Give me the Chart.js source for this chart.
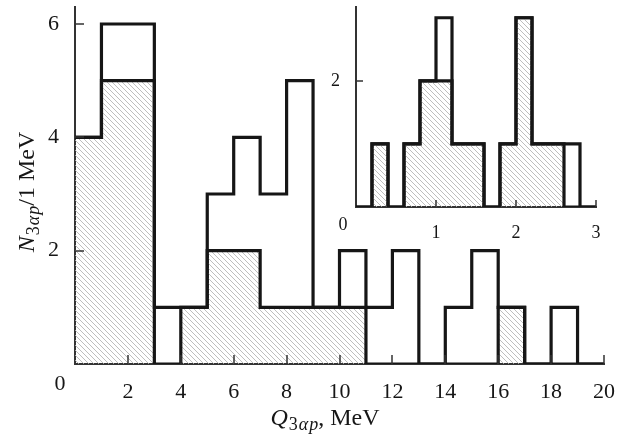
<!DOCTYPE html>
<html>
<head>
<meta charset="utf-8">
<script src="https://cdn.jsdelivr.net/npm/chart.js@4.4.1/dist/chart.umd.min.js"></script>
<style>
  html, body { margin: 0; padding: 0; background: #fff; }
  #wrap { position: relative; width: 627px; height: 438px; }
  #main { position: absolute; left: 0; top: 0; }
  #inset { position: absolute; left: 320px; top: 0; }
</style>
</head>
<body>
<div id="wrap">
  <canvas id="main" width="627" height="438"></canvas>
  <canvas id="inset" width="307" height="240"></canvas>
</div>
<script>
// main histogram: 1 MeV bins, 0..20 MeV
const mainEdges = [0, 1, 2, 3, 4, 5, 6, 7, 8, 9, 10, 11, 12, 13, 14, 15, 16, 17, 18, 19, 20];
const mainTotal = [4, 6, 6, 1, 1, 3, 4, 3, 5, 1, 2, 1, 2, 0, 1, 2, 1, 0, 1, 0];
const mainHatched = [4, 5, 5, 0, 1, 2, 2, 1, 1, 1, 1, 0, 0, 0, 0, 0, 1, 0, 0, 0];
const mainXTicks = [0, 2, 4, 6, 8, 10, 12, 14, 16, 18, 20];
const mainYTicks = [2, 4, 6];

// inset: 0.2 MeV bins, 0..3 MeV
const insetEdges = [0, 0.2, 0.4, 0.6, 0.8, 1.0, 1.2, 1.4, 1.6, 1.8, 2.0, 2.2, 2.4, 2.6, 2.8, 3.0];
const insetTotal = [0, 1, 0, 1, 2, 3, 1, 1, 0, 1, 3, 1, 1, 1, 0];
const insetHatched = [0, 1, 0, 1, 2, 2, 1, 1, 0, 1, 3, 1, 1, 0, 0];
const insetXTicks = [0, 1, 2, 3];
const insetYTicks = [2];

const SERIF = '"Liberation Serif", serif';
const INK = '#161616';
const AXIS = '#333';

function steps(edges, counts) {
    const pts = counts.map((c, i) => ({ x: edges[i], y: c }));
    pts.push({ x: edges[edges.length - 1], y: 0 });
    return pts;
}

function hatch() {
    const s = 5;
    const c = document.createElement('canvas');
    c.width = s; c.height = s;
    const g = c.getContext('2d');
    g.strokeStyle = '#b2b2b2';
    g.lineWidth = 0.85;
    g.beginPath();
    g.moveTo(-1, -1); g.lineTo(s + 1, s + 1);
    g.moveTo(-1, s - 1); g.lineTo(1, s + 1);
    g.moveTo(s - 1, -1); g.lineTo(s + 1, 1);
    g.stroke();
    return g.createPattern(c, 'repeat');
}

function richText(ctx, parts, x, y) {
    let w = 0;
    parts.forEach(p => { ctx.font = p.font; w += ctx.measureText(p.text).width + (p.gap || 0); });
    let cx = x - w / 2;
    parts.forEach(p => {
        ctx.font = p.font;
        ctx.fillText(p.text, cx, y + (p.dy || 0));
        cx += ctx.measureText(p.text).width + (p.gap || 0);
    });
}

function label(head) {
    const big = '24px ' + SERIF, bigIt = 'italic 24px ' + SERIF;
    const sub = '18px ' + SERIF, subIt = 'italic 18px ' + SERIF;
    return [
        { text: head, font: bigIt, gap: 1 },
        { text: '3', font: sub, dy: 5, gap: 1 },
        { text: 'α', font: subIt, dy: 5, gap: 1 },
        { text: 'p', font: subIt, dy: 5 }
    ];
}

// inside tick marks, corner zero label and axis titles
const extras = {
    id: 'extras',
    afterDraw(chart, args, opts) {
        const ctx = chart.ctx;
        const xs = chart.scales.x, ys = chart.scales.y;
        const area = chart.chartArea;
        ctx.save();
        ctx.strokeStyle = AXIS;
        ctx.lineWidth = 1.5;
        ctx.beginPath();
        opts.xTicks.forEach(v => {
            if (v === 0) return;
            const px = Math.round(xs.getPixelForValue(v));
            ctx.moveTo(px, area.bottom);
            ctx.lineTo(px, area.bottom - opts.tick);
        });
        opts.yTicks.forEach(v => {
            const py = Math.round(ys.getPixelForValue(v));
            ctx.moveTo(area.left, py);
            ctx.lineTo(area.left + opts.tick, py);
        });
        ctx.stroke();

        // the "0" sits left of the corner
        ctx.fillStyle = INK;
        ctx.font = opts.size + 'px ' + SERIF;
        ctx.textAlign = 'center';
        ctx.textBaseline = 'middle';
        ctx.fillText('0', xs.getPixelForValue(0) - opts.zeroShift, area.bottom + opts.pad + opts.size * 0.6);

        if (opts.titles) {
            ctx.textAlign = 'left';
            ctx.textBaseline = 'alphabetic';
            const big = '24px ' + SERIF;
            richText(ctx, label('Q').concat([{ text: ', MeV', font: big }]), 325, 425);
            ctx.save();
            ctx.translate(34, 192);
            ctx.rotate(-Math.PI / 2);
            richText(ctx, label('N').concat([{ text: '/1 MeV', font: big }]), 0, 0);
            ctx.restore();
        }
        ctx.restore();
    }
};

function makeChart(id, cfg) {
    const pattern = hatch();
    return new Chart(document.getElementById(id), {
        type: 'line',
        data: {
            datasets: [{
                data: steps(cfg.edges, cfg.hatched),
                stepped: true,
                borderColor: INK,
                borderWidth: 3.2,
                backgroundColor: pattern,
                fill: 'origin',
                pointRadius: 0,
                clip: 0
            }, {
                data: steps(cfg.edges, cfg.total),
                stepped: true,
                borderColor: INK,
                borderWidth: 3.2,
                fill: false,
                pointRadius: 0,
                clip: 0
            }]
        },
        options: {
            responsive: false,
            animation: false,
            events: [],
            layout: { padding: { top: cfg.top, right: cfg.right, left: 0, bottom: 0 } },
            plugins: {
                legend: { display: false },
                tooltip: { enabled: false },
                extras: {
                    xTicks: cfg.xTicks, yTicks: cfg.yTicks, tick: cfg.tick,
                    size: cfg.size, pad: cfg.xPad, zeroShift: cfg.zeroShift, titles: cfg.titles
                }
            },
            scales: {
                x: {
                    type: 'linear',
                    min: cfg.edges[0],
                    max: cfg.edges[cfg.edges.length - 1],
                    afterBuildTicks: s => { s.ticks = cfg.xTicks.map(v => ({ value: v })); },
                    afterFit: s => { s.height = cfg.xHeight; s.paddingLeft = 0; s.paddingRight = 0; },
                    grid: { display: false },
                    border: { color: AXIS, width: 2 },
                    ticks: {
                        padding: cfg.xPad,
                        color: INK,
                        maxRotation: 0,
                        autoSkip: false,
                        font: { family: SERIF, size: cfg.size },
                        callback: v => v === 0 ? '' : String(v)
                    }
                },
                y: {
                    min: 0,
                    max: cfg.yMax,
                    afterBuildTicks: s => { s.ticks = cfg.yTicks.map(v => ({ value: v })); },
                    afterFit: s => { s.width = cfg.yWidth; s.paddingTop = 0; s.paddingBottom = 0; },
                    grid: { display: false },
                    border: { color: AXIS, width: 2 },
                    ticks: {
                        padding: cfg.yPad,
                        color: INK,
                        font: { family: SERIF, size: cfg.size }
                    }
                }
            }
        },
        plugins: [extras]
    });
}

makeChart('main', {
    edges: mainEdges, total: mainTotal, hatched: mainHatched,
    xTicks: mainXTicks, yTicks: mainYTicks,
    yMax: 6.3, top: 7, right: 23, xHeight: 74, yWidth: 75,
    size: 22, xPad: 7, yPad: 8, tick: 9, zeroShift: 15, titles: true
});

makeChart('inset', {
    edges: insetEdges, total: insetTotal, hatched: insetHatched,
    xTicks: insetXTicks, yTicks: insetYTicks,
    yMax: 3.17, top: 7, right: 31, xHeight: 33, yWidth: 36,
    size: 18, xPad: 7, yPad: 8, tick: 7, zeroShift: 13, titles: false
});
</script>
</body>
</html>
